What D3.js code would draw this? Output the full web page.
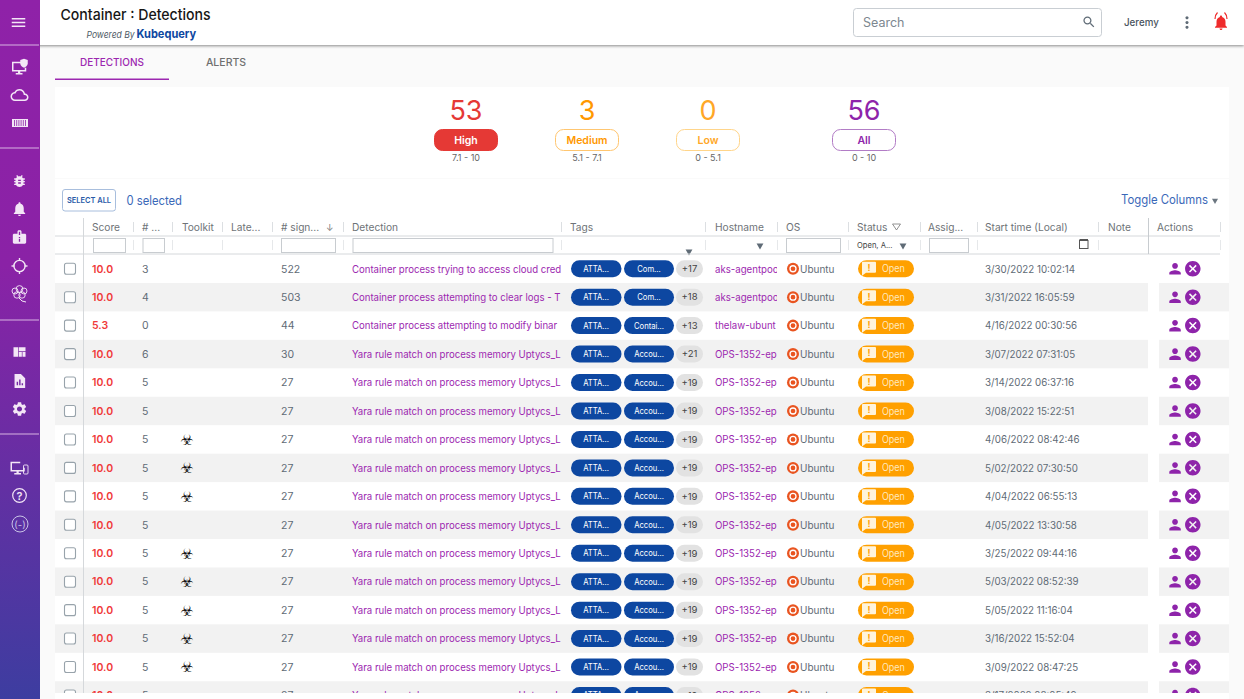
<!DOCTYPE html>
<html>
<head>
<meta charset="utf-8">
<script src="https://cdn.jsdelivr.net/npm/d3@7"></script>
<style>
  html, body { margin: 0; padding: 0; background: #fff; overflow: hidden; }
  svg { display: block; font-family: Inter, "Noto Sans", sans-serif; }
</style>
</head>
<body>
<div id="page"></div>
<script>
// Severity summary
const severityNames = ["High", "Medium", "Low", "All"];
const severityCounts = [53, 3, 0, 56];
const severityRanges = ["7.1 - 10", "5.1 - 7.1", "0 - 5.1", "0 - 10"];

// Table columns
const columnNames = ["Score", "# ...", "Toolkit", "Late...", "# sign...", "Detection", "Tags", "Hostname", "OS", "Status", "Assig...", "Start time (Local)", "Note", "Actions"];

// Table rows
const scores = ["10.0", "10.0", "5.3", "10.0", "10.0", "10.0", "10.0", "10.0", "10.0", "10.0", "10.0", "10.0", "10.0", "10.0", "10.0", "10.0"];
const counts = [3, 4, 0, 6, 5, 5, 5, 5, 5, 5, 5, 5, 5, 5, 5, 5];
const toolkits = [0, 0, 0, 0, 0, 0, 1, 1, 1, 0, 1, 1, 1, 1, 1, 0];
const signals = [522, 503, 44, 30, 27, 27, 27, 27, 27, 27, 27, 27, 27, 27, 27, 27];
const yara = "Yara rule match on process memory Uptycs_L";
const detections = ["Container process trying to access cloud cred", "Container process attempting to clear logs - T", "Container process attempting to modify binar", yara, yara, yara, yara, yara, yara, yara, yara, yara, yara, yara, yara, yara];
const secondTags = ["Com...", "Com...", "Contai...", "Accou...", "Accou...", "Accou...", "Accou...", "Accou...", "Accou...", "Accou...", "Accou...", "Accou...", "Accou...", "Accou...", "Accou...", "Accou..."];
const extraTags = [17, 18, 13, 21, 19, 19, 19, 19, 19, 19, 19, 19, 19, 19, 19, 19];
const hostnames = ["aks-agentpoo", "aks-agentpoo", "thelaw-ubunt", "OPS-1352-ep", "OPS-1352-ep", "OPS-1352-ep", "OPS-1352-ep", "OPS-1352-ep", "OPS-1352-ep", "OPS-1352-ep", "OPS-1352-ep", "OPS-1352-ep", "OPS-1352-ep", "OPS-1352-ep", "OPS-1352-ep", "OPS-1352-ep"];
const startTimes = ["3/30/2022 10:02:14", "3/31/2022 16:05:59", "4/16/2022 00:30:56", "3/07/2022 07:31:05", "3/14/2022 06:37:16", "3/08/2022 15:22:51", "4/06/2022 08:42:46", "5/02/2022 07:30:50", "4/04/2022 06:55:13", "4/05/2022 13:30:58", "3/25/2022 09:44:16", "5/03/2022 08:52:39", "5/05/2022 11:16:04", "3/16/2022 15:52:04", "3/09/2022 08:47:25", "3/17/2022 08:05:49"];

// Layout
const width = 1244, height = 699;
const columnX = [92, 142, 182, 231, 281, 352, 570, 715, 786, 857, 928, 985, 1108, 1157];
const separators = [133, 172, 222, 272, 343, 561, 705, 777, 848, 920, 977, 1098, 1220];
const rowHeight = 28.45;
const rowTop = 254.5;
const tableBottom = 693;

const purple = "#9c27b0", red = "#f03a3a", orange = "#ffa000", navy = "#0d47a1", gray = "#5f6b76";
const icons = {
  menu: "M3 18h18v-2H3v2zm0-5h18v-2H3v2zm0-7v2h18V6H3z",
  person: "M12 12c2.21 0 4-1.79 4-4s-1.79-4-4-4-4 1.79-4 4 1.79 4 4 4zm0 2c-2.67 0-8 1.34-8 4v2h16v-2c0-2.66-5.33-4-8-4z",
  cancel: "M12 2C6.47 2 2 6.47 2 12s4.47 10 10 10 10-4.47 10-10S17.53 2 12 2zm5 13.59L15.59 17 12 13.41 8.41 17 7 15.59 10.59 12 7 8.41 8.41 7 12 10.59 15.59 7 17 8.41 13.41 12 17 15.59z",
  bell: "M12 22c1.1 0 2-.9 2-2h-4c0 1.1.89 2 2 2zm6-6v-5c0-3.07-1.64-5.64-4.5-6.32V4c0-.83-.67-1.5-1.5-1.5s-1.5.67-1.5 1.5v.68C7.63 5.36 6 7.92 6 11v5l-2 2v1h16v-1l-2-2z",
  search: "M15.5 14h-.79l-.28-.27C15.41 12.59 16 11.11 16 9.5 16 5.91 13.09 3 9.5 3S3 5.91 3 9.5 5.91 16 9.5 16c1.61 0 3.09-.59 4.23-1.57l.27.28v.79l5 4.99L20.49 19l-4.99-5zm-6 0C7.01 14 5 11.99 5 9.5S7.01 5 9.5 5 14 7.01 14 9.5 11.99 14 9.5 14z",
  more: "M12 8c1.1 0 2-.9 2-2s-.9-2-2-2-2 .9-2 2 .9 2 2 2zm0 2c-1.1 0-2 .9-2 2s.9 2 2 2 2-.9 2-2-.9-2-2-2zm0 6c-1.1 0-2 .9-2 2s.9 2 2 2 2-.9 2-2-.9-2-2-2z",
  cloud: "M19.35 10.04C18.67 6.59 15.64 4 12 4 9.11 4 6.6 5.64 5.35 8.04 2.34 8.36 0 10.91 0 14c0 3.31 2.69 6 6 6h13c2.76 0 5-2.24 5-5 0-2.64-2.05-4.78-4.65-4.96zM19 18H6c-2.21 0-4-1.79-4-4 0-2.05 1.53-3.76 3.56-3.97l1.07-.11.5-.95C8.08 7.14 9.94 6 12 6c2.62 0 4.88 1.86 5.39 4.43l.3 1.5 1.53.11c1.56.1 2.78 1.41 2.78 2.96 0 1.65-1.35 3-3 3z",
  bug: "M20 8h-2.81c-.45-.78-1.07-1.45-1.82-1.96L17 4.41 15.59 3l-2.17 2.17C12.96 5.06 12.49 5 12 5c-.49 0-.96.06-1.41.17L8.41 3 7 4.41l1.62 1.63C7.88 6.55 7.26 7.22 6.81 8H4v2h2.09c-.05.33-.09.66-.09 1v1H4v2h2v1c0 .34.04.67.09 1H4v2h2.81c1.04 1.79 2.97 3 5.19 3s4.15-1.21 5.19-3H20v-2h-2.09c.05-.33.09-.66.09-1v-1h2v-2h-2v-1c0-.34-.04-.67-.09-1H20V8zm-6 8h-4v-2h4v2zm0-4h-4v-2h4v2z",
  gear: "M19.14 12.94c.04-.3.06-.61.06-.94 0-.32-.02-.64-.07-.94l2.03-1.58c.18-.14.23-.41.12-.61l-1.92-3.32c-.12-.22-.37-.29-.59-.22l-2.39.96c-.5-.38-1.03-.7-1.62-.94l-.36-2.54c-.04-.24-.24-.41-.48-.41h-3.84c-.24 0-.43.17-.47.41l-.36 2.54c-.59.24-1.13.57-1.62.94l-2.39-.96c-.22-.08-.47 0-.59.22L2.74 8.87c-.12.21-.08.47.12.61l2.03 1.58c-.05.3-.09.63-.09.94s.02.64.07.94l-2.03 1.58c-.18.14-.23.41-.12.61l1.92 3.32c.12.22.37.29.59.22l2.39-.96c.5.38 1.03.7 1.62.94l.36 2.54c.05.24.24.41.48.41h3.84c.24 0 .44-.17.47-.41l.36-2.54c.59-.24 1.13-.56 1.62-.94l2.39.96c.22.08.47 0 .59-.22l1.92-3.32c.12-.22.07-.47-.12-.61l-2.01-1.58zM12 15.6c-1.98 0-3.6-1.62-3.6-3.6s1.62-3.6 3.6-3.6 3.6 1.62 3.6 3.6-1.62 3.6-3.6 3.6z",
  clipboard: "M20 7h-5V4c0-1.1-.9-2-2-2h-2c-1.1 0-2 .9-2 2v3H4c-1.1 0-2 .9-2 2v11c0 1.1.9 2 2 2h16c1.1 0 2-.9 2-2V9c0-1.1-.9-2-2-2zM11 4h2v5h-2V4zm0 8h2v2h-2zm0 3h2v4h-2z",
  dashboard: "M3 5h7v14H3zM11 5h10v6H11zM11 12h4.5v7H11zM16.5 12H21v7h-4.5z",
  report: "M5 2h9l6 6v14H5zM8 18h2v-5H8zm3.5 0h2v-8h-2zm3.5 0h2v-3h-2z",
  monitor: "M2 5h13v2H4v9h15v-3h2v5H13v2h3v2H7v-2h3v-2H2z",
  shield: "M18 1l5 1.8V7c0 3-2.2 5.2-5 6-2.8-.8-5-3-5-6V2.8z"
};

const svg = d3.select("#page").append("svg")
    .attr("width", width)
    .attr("height", height)
    .attr("viewBox", `0 0 ${width} ${height}`);

const defs = svg.append("defs");

const gradient = defs.append("linearGradient")
    .attr("id", "sidebarFill")
    .attr("x1", 0).attr("x2", 0).attr("y1", 0).attr("y2", 1);
gradient.append("stop").attr("offset", "0%").attr("stop-color", "#8f22a8");
gradient.append("stop").attr("offset", "38%").attr("stop-color", "#8a22a6");
gradient.append("stop").attr("offset", "100%").attr("stop-color", "#3d3da0");

const shadow = defs.append("filter").attr("id", "headerShadow")
    .attr("x", "-5%").attr("y", "-20%").attr("width", "110%").attr("height", "150%");
shadow.append("feDropShadow")
    .attr("dx", 0).attr("dy", 1).attr("stdDeviation", 1.6)
    .attr("flood-color", "#000").attr("flood-opacity", 0.45);

function addClip(id, x, y, w, h) {
    defs.append("clipPath").attr("id", id).append("rect")
        .attr("x", x).attr("y", y).attr("width", w).attr("height", h);
}
addClip("tableClip", 40, rowTop, width - 40, tableBottom - rowTop);
addClip("detectionClip", 345, 0, 216, height);
addClip("hostClip", 710, 0, 67, height);

function label(parent, x, y, text, size, color, weight, anchor) {
    return parent.append("text")
        .attr("x", x)
        .attr("y", y)
        .attr("font-size", size)
        .attr("fill", color)
        .attr("font-weight", weight || 400)
        .attr("text-anchor", anchor || "start")
        .text(text);
}

// the reference's type runs narrower than Inter, so squeeze it around its x
function squeeze(selection, x, sx) {
    return selection.attr("transform", `translate(${x * (1 - sx)}, 0) scale(${sx}, 1)`);
}

function icon(parent, name, cx, cy, size, color) {
    return parent.append("path")
        .attr("d", icons[name])
        .attr("fill", color)
        .attr("fill-rule", "evenodd")
        .attr("transform", `translate(${cx - size / 2}, ${cy - size / 2}) scale(${size / 24})`);
}

function triangle(parent, cx, cy, size, color) {
    parent.append("path")
        .attr("d", d3.symbol(d3.symbolTriangle, size * size)())
        .attr("fill", color)
        .attr("transform", `translate(${cx}, ${cy}) rotate(180)`);
}

// Page background
svg.append("rect").attr("width", width).attr("height", height).attr("fill", "#fafafa");

// Summary card and table card
svg.append("rect").attr("x", 55).attr("y", 87).attr("width", 1174).attr("height", 91).attr("fill", "#fff");
svg.append("rect").attr("x", 55).attr("y", 179).attr("width", 1174).attr("height", height - 179).attr("fill", "#fff");

// Header
svg.append("rect").attr("x", 0).attr("y", 0).attr("width", width).attr("height", 45)
    .attr("fill", "#fff").attr("filter", "url(#headerShadow)");
squeeze(label(svg, 60.5, 20, "Container : Detections", 15, "#161616", 500), 60.5, 0.94);
squeeze(label(svg, 86.5, 38, "Powered By", 9.5, "#4f5b66").attr("font-style", "italic"), 86.5, 0.9);
squeeze(label(svg, 136.5, 38, "Kubequery", 12, navy, 700), 136.5, 0.92);

svg.append("rect").attr("x", 853.5).attr("y", 8.5).attr("width", 248).attr("height", 28).attr("rx", 3)
    .attr("fill", "#fff").attr("stroke", "#c9ced3");
label(svg, 863, 27, "Search", 12.5, "#7d8790");
icon(svg, "search", 1089, 22, 15, "#5f6b76");
squeeze(label(svg, 1124, 26, "Jeremy", 10.5, "#4a5560", 500), 1124, 0.93);
icon(svg, "more", 1187, 22.5, 19, "#5f6b76");
icon(svg, "bell", 1221, 22.5, 18, "#ef2b2b");
svg.append("path").attr("d", "M1215 19c0-3 1-5 2.5-6.5M1227 19c0-3-1-5-2.5-6.5")
    .attr("fill", "none").attr("stroke", "#ef2b2b").attr("stroke-width", 1.2);

// Sidebar
svg.append("rect").attr("width", 40).attr("height", height).attr("fill", "url(#sidebarFill)");
[45, 148, 320, 434].forEach(y => {
    svg.append("line").attr("x1", 0).attr("x2", 39).attr("y1", y).attr("y2", y)
        .attr("stroke", "#d8b4e2").attr("stroke-width", 1);
});
const sidebarWhite = "#f3e6f6";
icon(svg, "menu", 18.5, 22.5, 18, sidebarWhite);
icon(svg, "monitor", 19.5, 67, 18, sidebarWhite);
icon(svg, "shield", 19.5, 67, 18, sidebarWhite);
icon(svg, "cloud", 19.5, 95, 18, sidebarWhite);
svg.append("rect").attr("x", 12).attr("y", 119).attr("width", 16).attr("height", 8).attr("fill", sidebarWhite);
d3.range(6).forEach(i => {
    svg.append("line").attr("x1", 14.5 + i * 2.2).attr("x2", 14.5 + i * 2.2).attr("y1", 120).attr("y2", 126)
        .attr("stroke", "#8a22a6").attr("stroke-width", 0.8);
});
icon(svg, "bug", 19.5, 181, 16, sidebarWhite);
icon(svg, "bell", 19.5, 209, 17, sidebarWhite);
icon(svg, "clipboard", 19.5, 237, 16, sidebarWhite);
svg.append("circle").attr("cx", 19.5).attr("cy", 266).attr("r", 5.6)
    .attr("fill", "none").attr("stroke", sidebarWhite).attr("stroke-width", 1.4);
[[19.5, 258, 19.5, 261], [19.5, 271, 19.5, 274], [11.5, 266, 14.5, 266], [24.5, 266, 27.5, 266]].forEach(d => {
    svg.append("line").attr("x1", d[0]).attr("y1", d[1]).attr("x2", d[2]).attr("y2", d[3])
        .attr("stroke", sidebarWhite).attr("stroke-width", 1.4);
});
// brain glyph as a cluster of outlined lobes
[[15, 291, 3], [19.5, 289, 3.4], [24, 291, 3], [17, 295, 3.2], [22, 295, 3.2]].forEach(d => {
    svg.append("circle").attr("cx", d[0]).attr("cy", d[1]).attr("r", d[2])
        .attr("fill", "none").attr("stroke", sidebarWhite).attr("stroke-width", 0.9);
});
svg.append("path").attr("d", "M19 298l3 3 4 1").attr("fill", "none").attr("stroke", sidebarWhite).attr("stroke-width", 1);
icon(svg, "dashboard", 19.5, 352, 16, sidebarWhite);
icon(svg, "report", 19.5, 381, 17, sidebarWhite);
icon(svg, "gear", 19.5, 409, 17, sidebarWhite);
icon(svg, "monitor", 18, 467, 18, sidebarWhite);
svg.append("rect").attr("x", 23.5).attr("y", 465).attr("width", 4.5).attr("height", 9).attr("rx", 1)
    .attr("fill", "none").attr("stroke", sidebarWhite).attr("stroke-width", 0.9);
svg.append("circle").attr("cx", 19.5).attr("cy", 495.5).attr("r", 6.8)
    .attr("fill", "none").attr("stroke", sidebarWhite).attr("stroke-width", 1.2);
label(svg, 19.5, 499.5, "?", 11, sidebarWhite, 600, "middle");
svg.append("circle").attr("cx", 20).attr("cy", 524).attr("r", 8)
    .attr("fill", "none").attr("stroke", "#c9c3e6").attr("stroke-width", 1);
label(svg, 20, 527.5, "(-)", 9.5, "#c9c3e6", 400, "middle");

// Tabs
squeeze(label(svg, 112, 66, "DETECTIONS", 10.5, purple, 500, "middle"), 112, 0.95);
label(svg, 226, 66, "ALERTS", 10.5, "#6f6f6f", 500, "middle");
svg.append("rect").attr("x", 55).attr("y", 78.5).attr("width", 114).attr("height", 1.5).attr("fill", purple);

// Severity summary, one group per level
const severityX = d3.scaleOrdinal().domain(severityNames).range([466, 587, 708, 864]);
const severityColor = d3.scaleOrdinal().domain(severityNames).range(["#e53935", "#ff9800", "#ffa726", "#8e24aa"]);
const severityBorder = d3.scaleOrdinal().domain(severityNames).range(["#e53935", "#ffc670", "#ffd58a", "#b27cc6"]);

const severity = svg.selectAll(".severity")
    .data(severityNames)
    .enter().append("g")
    .attr("class", "severity")
    .attr("transform", d => `translate(${severityX(d)}, 0)`);

severity.append("text")
    .attr("y", 120)
    .attr("text-anchor", "middle")
    .attr("font-size", 27)
    .attr("fill", d => severityColor(d))
    .text((d, i) => severityCounts[i]);

severity.append("rect")
    .attr("x", -31.5).attr("y", 129.5).attr("width", 63).attr("height", 21).attr("rx", 8)
    .attr("fill", (d, i) => i === 0 ? severityColor(d) : "#fff")
    .attr("stroke", d => severityBorder(d));

severity.append("text")
    .attr("y", 143.5)
    .attr("text-anchor", "middle")
    .attr("font-size", 10.5)
    .attr("font-weight", 600)
    .attr("fill", (d, i) => i === 0 ? "#fff" : severityColor(d))
    .text(d => d);

severity.append("text")
    .attr("y", 161)
    .attr("text-anchor", "middle")
    .attr("font-size", 9)
    .attr("fill", "#666")
    .text((d, i) => severityRanges[i]);

// Table toolbar
svg.append("rect").attr("x", 62.5).attr("y", 189.5).attr("width", 53).attr("height", 21.5).attr("rx", 2.5)
    .attr("fill", "#fff").attr("stroke", "#a8bedd");
squeeze(label(svg, 89, 203.5, "SELECT ALL", 8, "#2a5ba8", 600, "middle"), 89, 0.93);
squeeze(label(svg, 126.5, 205, "0 selected", 12.5, "#3a68b8"), 126.5, 0.9);
squeeze(label(svg, 1121, 204, "Toggle Columns", 12.5, "#3a68b8"), 1121, 0.91);
triangle(svg, 1215, 200.5, 4, "#6b7680");

// Column headers
svg.selectAll(".col-head")
    .data(columnNames)
    .enter().append("text")
    .attr("class", "col-head")
    .attr("x", (d, i) => columnX[i])
    .attr("y", 231)
    .attr("font-size", 10.5)
    .attr("fill", "#6e7377")
    .text(d => d)
    .each(function(d, i) { squeeze(d3.select(this), columnX[i], 0.97); });

separators.forEach(x => {
    svg.append("line").attr("x1", x + 0.5).attr("x2", x + 0.5).attr("y1", 222).attr("y2", 232)
        .attr("stroke", "#dcdfe2");
    svg.append("line").attr("x1", x + 0.5).attr("x2", x + 0.5).attr("y1", 240).attr("y2", 250)
        .attr("stroke", "#e6e8ea");
});
label(svg, 326, 231, "↓", 9, "#777");
svg.append("path").attr("d", "M892.5 224h8l-4 6z").attr("fill", "none").attr("stroke", "#777").attr("stroke-width", 0.8);

// Filter row
[[93, 32], [142.5, 21.5], [281, 54], [352.5, 200], [786, 54], [929, 39]].forEach(d => {
    svg.append("rect").attr("x", d[0] + 0.5).attr("y", 238.5).attr("width", d[1]).attr("height", 14)
        .attr("fill", "#fff").attr("stroke", "#c8ccd0");
});
triangle(svg, 689, 251.5, 4.5, "#5f6b76");
triangle(svg, 760, 245.5, 4.5, "#5f6b76");
squeeze(label(svg, 857, 248, "Open, A...", 8, "#444"), 857, 0.95);
triangle(svg, 903, 245.5, 4.5, "#5f6b76");
svg.append("rect").attr("x", 1079.5).attr("y", 240.5).attr("width", 8.5).attr("height", 8).attr("fill", "none").attr("stroke", "#555");
svg.append("rect").attr("x", 1079.5).attr("y", 239).attr("width", 8.5).attr("height", 2).attr("fill", "#555");

svg.append("line").attr("x1", 55).attr("x2", 1220).attr("y1", 236).attr("y2", 236).attr("stroke", "#d5d8db");
svg.append("line").attr("x1", 55).attr("x2", 1220).attr("y1", 254).attr("y2", 254).attr("stroke", "#d5d8db");

// Rows
const rowIds = d3.range(scores.length);
const rowY = d3.scaleBand()
    .domain(rowIds)
    .range([rowTop, rowTop + rowHeight * rowIds.length]);

const rowsClip = svg.append("g").attr("clip-path", "url(#tableClip)");
const rows = rowsClip.selectAll(".row")
    .data(rowIds)
    .enter().append("g")
    .attr("class", "row")
    .attr("transform", d => `translate(0, ${rowY(d)})`);

const mid = rowY.bandwidth() / 2;
const baseline = mid + 3.8;

rows.filter(d => d % 2 === 1).append("rect")
    .attr("x", 55).attr("y", 0).attr("width", 1093).attr("height", rowY.bandwidth())
    .attr("fill", "#f2f2f2");
rows.filter(d => d % 2 === 1).append("rect")
    .attr("x", 1159).attr("y", 0).attr("width", 70).attr("height", rowY.bandwidth())
    .attr("fill", "#f2f2f2");

rows.append("rect")
    .attr("x", 64.5).attr("y", mid - 5.5).attr("width", 11).attr("height", 11).attr("rx", 2)
    .attr("fill", "#fff").attr("stroke", "#98a3ab").attr("stroke-width", 1.1);

rows.append("text").attr("x", columnX[0]).attr("y", baseline)
    .attr("font-size", 10.5).attr("font-weight", 600).attr("fill", red)
    .text(d => scores[d]);
rows.append("text").attr("x", columnX[1]).attr("y", baseline)
    .attr("font-size", 10.5).attr("fill", gray)
    .text(d => counts[d]);
rows.filter(d => toolkits[d]).append("text")
    .attr("x", 187).attr("y", mid + 5.4).attr("text-anchor", "middle")
    .attr("font-family", "DejaVu Sans").attr("font-size", 15).attr("fill", "#111")
    .text("☣");
rows.append("text").attr("x", columnX[4]).attr("y", baseline)
    .attr("font-size", 10.5).attr("fill", gray)
    .text(d => signals[d]);

squeeze(rows.append("g").attr("clip-path", "url(#detectionClip)").append("text")
    .attr("x", columnX[5]).attr("y", baseline)
    .attr("font-size", 10.5).attr("fill", purple)
    .text(d => detections[d]), columnX[5], 0.915);

// Tags
rows.append("rect").attr("x", 571).attr("y", mid - 8.5).attr("width", 50.5).attr("height", 17).attr("rx", 8.5).attr("fill", navy);
squeeze(rows.append("text").attr("x", 596).attr("y", mid + 3).attr("text-anchor", "middle")
    .attr("font-size", 8.5).attr("fill", "#fff").text("ATTA..."), 596, 0.9);
rows.append("rect").attr("x", 624).attr("y", mid - 8.5).attr("width", 50).attr("height", 17).attr("rx", 8.5).attr("fill", navy);
squeeze(rows.append("text").attr("x", 649).attr("y", mid + 3).attr("text-anchor", "middle")
    .attr("font-size", 8.5).attr("fill", "#fff").text(d => secondTags[d]), 649, 0.9);
rows.append("rect").attr("x", 676).attr("y", mid - 8.5).attr("width", 27).attr("height", 17).attr("rx", 8.5).attr("fill", "#e2e2e2");
rows.append("text").attr("x", 689.5).attr("y", mid + 3.3).attr("text-anchor", "middle")
    .attr("font-size", 9.5).attr("fill", "#444").text(d => "+" + extraTags[d]);

squeeze(rows.append("g").attr("clip-path", "url(#hostClip)").append("text")
    .attr("x", columnX[7]).attr("y", baseline)
    .attr("font-size", 10.5).attr("fill", purple)
    .text(d => hostnames[d]), columnX[7], 0.92);

// OS logo and name
rows.append("circle").attr("cx", 793).attr("cy", mid).attr("r", 6).attr("fill", "#e95420");
rows.append("circle").attr("cx", 793).attr("cy", mid).attr("r", 3)
    .attr("fill", "none").attr("stroke", "#fff").attr("stroke-width", 1.3);
squeeze(rows.append("text").attr("x", 800).attr("y", baseline)
    .attr("font-size", 10.5).attr("fill", gray).text("Ubuntu"), 800, 0.95);

// Status chip
rows.append("rect").attr("x", 858).attr("y", mid - 8.5).attr("width", 56).attr("height", 17).attr("rx", 8.5).attr("fill", orange);
rows.append("path")
    .attr("d", "M863 0h12a1 1 0 0 1 1 1v9a1 1 0 0 1-1 1h-9l-4 3v-13a1 1 0 0 1 1-1z")
    .attr("transform", `translate(0, ${mid - 7})`)
    .attr("fill", "#fff4dc");
rows.append("text").attr("x", 869).attr("y", mid + 2.4).attr("text-anchor", "middle")
    .attr("font-size", 9).attr("font-weight", 700).attr("fill", orange).text("!");
squeeze(rows.append("text").attr("x", 882).attr("y", mid + 3.6)
    .attr("font-size", 10).attr("fill", "#ffe9bf").text("Open"), 882, 0.9);

squeeze(rows.append("text").attr("x", columnX[11]).attr("y", baseline)
    .attr("font-size", 10.5).attr("fill", gray)
    .text(d => startTimes[d]), columnX[11], 0.93);

// Action icons
rows.append("path").attr("d", icons.person).attr("fill", "#8e24aa")
    .attr("transform", `translate(1166.4, ${mid - 8.6}) scale(0.72)`);
rows.append("path").attr("d", icons.cancel).attr("fill", "#8e24aa").attr("fill-rule", "evenodd")
    .attr("transform", `translate(1183.5, ${mid - 9.3}) scale(0.775)`);

// Frozen column rules sit on top of the rows
svg.append("line").attr("x1", 83.5).attr("x2", 83.5).attr("y1", 218).attr("y2", tableBottom).attr("stroke", "#d5d8db");
svg.append("line").attr("x1", 1148.5).attr("x2", 1148.5).attr("y1", 218).attr("y2", 254).attr("stroke", "#c8ccd0");
</script>
</body>
</html>
